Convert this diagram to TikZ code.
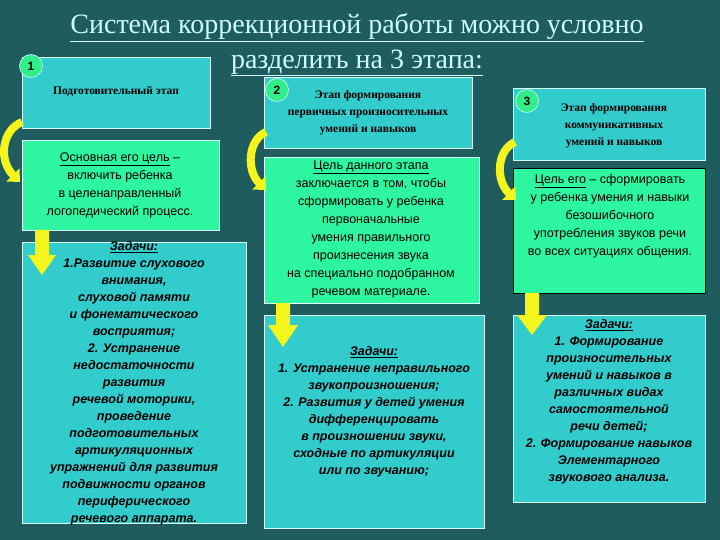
\documentclass[tikz,border=0pt]{standalone}
\usepackage{fontspec}
\setmainfont{Liberation Serif}
\newfontfamily\arial{Liberation Sans}
\usetikzlibrary{arrows.meta}
\definecolor{bg}{HTML}{1E5C5E}
\definecolor{cy}{HTML}{33CCCC}
\definecolor{gr}{HTML}{2EF5A0}
\definecolor{tt}{HTML}{CCFFFF}
\definecolor{yl}{HTML}{F5F51E}
\definecolor{num}{HTML}{33EE88}
\tikzset{
 cbox/.style={draw=tt!70!white,line width=0.8pt,fill=cy,inner sep=0pt},
 gbox/.style={draw=tt!70!white,line width=0.8pt,fill=gr,inner sep=0pt},
 txt/.style={align=center,font=\arial\fontsize{12.5}{18}\selectfont,text=black},
 itx/.style={align=center,font=\arial\bfseries\itshape\fontsize{12.5}{17}\selectfont,text=black},
 htx/.style={align=center,font=\bfseries\fontsize{11.5}{17}\selectfont,text=black},
 numc/.style={circle,fill=num,draw=tt,line width=0.6pt,minimum size=23pt,inner sep=0pt,font=\arial\bfseries\fontsize{12}{12}\selectfont},
 down/.style={draw=none,fill=yl},
 curv/.style={yl,line width=8pt,-{Triangle[length=10pt,width=18pt]}}
}
\begin{document}
\begin{tikzpicture}[x=1pt,y=-1pt]
\fill[bg] (0,0) rectangle (720,540);
\useasboundingbox (0,0) rectangle (720,540);
% title
\node[font=\fontsize{28}{32}\selectfont,text=tt,align=center] (title) at (357,28) {\underline{Система коррекционной работы можно условно}};
\node[font=\fontsize{28}{32}\selectfont,text=tt] (title2) at (357,63) {\underline{разделить на 3 этапа:}};
% column 1
\path[cbox] (22,57) rectangle (210,128);
\node[htx] (h1) at (116,92) {Подготовительный этап};
\path[gbox] (22,140) rectangle (219,230);
\node[txt] (g1) at (120,185) {\underline{Основная его цель} –\\ включить ребенка\\ в целенаправленный\\ логопедический процесс.};
\path[cbox] (22,242) rectangle (246,523);
\node[itx] (t1) at (134,383) {\underline{Задачи:}\\1.Развитие слухового\\ внимания,\\ слуховой памяти\\ и фонематического\\ восприятия;\\ 2. Устранение\\ недостаточности\\ развития\\ речевой моторики,\\ проведение\\ подготовительных\\ артикуляционных\\ упражнений для развития\\ подвижности органов\\ периферического\\ речевого аппарата.};
% column 2
\path[cbox] (264,77) rectangle (472,148);
\node[htx] (h2) at (368,113) {Этап формирования\\ первичных произносительных\\ умений и навыков};
\path[gbox] (264,157) rectangle (479,303);
\node[txt] (g2) at (371,229) {\underline{Цель данного этапа}\\ заключается в том, чтобы\\ сформировать у ребенка\\ первоначальные\\ умения правильного\\ произнесения звука\\ на специально подобранном\\ речевом материале.};
\path[cbox] (264,315) rectangle (484,528);
\node[itx] (t2) at (374,412) {\underline{Задачи:}\\1. Устранение неправильного\\ звукопроизношения;\\ 2. Развития у детей умения\\ дифференцировать\\ в произношении звуки,\\ сходные по артикуляции\\ или по звучанию;};
% column 3
\path[cbox] (513,88) rectangle (705,160);
\node[htx] (h3) at (614,126) {Этап формирования\\ коммуникативных\\ умений и навыков};
\path[gbox,draw=black] (513,168) rectangle (705,293);
\node[txt] (g3) at (610,216) {\underline{Цель его} – сформировать\\ у ребенка умения и навыки\\ безошибочного\\ употребления звуков речи\\ во всех ситуациях общения.};
\path[cbox] (513,315) rectangle (705,502);
\node[itx] (t3) at (609,402) {\underline{Задачи:}\\1. Формирование\\ произносительных\\ умений и навыков в\\ различных видах\\ самостоятельной\\ речи детей;\\ 2. Формирование навыков\\ Элементарного\\ звукового анализа.};
% numbers
\node[numc] (n1) at (31,66) {1};
\node[numc] (n2) at (277,90) {2};
\node[numc] (n3) at (527,101) {3};
% down arrows
\fill[down] (35,230) rectangle (49,255) -- (56,255) -- (42,275) -- (28,255) -- (35,255);
\fill[down] (276,303) rectangle (290,325) -- (298,325) -- (283,347) -- (268,325) -- (276,325);
\fill[down] (525,293) rectangle (539,315) -- (547,315) -- (532,335) -- (517,315) -- (525,315);
% curved arrows
\coordinate (c1s) at (22,122); \coordinate (c1e) at (20,182);
\draw[curv] (c1s) .. controls (2,130) and (-2,160) .. (c1e);
\coordinate (c2s) at (266,132); \coordinate (c2e) at (266,190);
\draw[curv] (c2s) .. controls (248,140) and (246,170) .. (c2e);
\coordinate (c3s) at (515,142); \coordinate (c3e) at (516,200);
\draw[curv] (c3s) .. controls (497,150) and (495,180) .. (c3e);
\end{tikzpicture}
\end{document}
